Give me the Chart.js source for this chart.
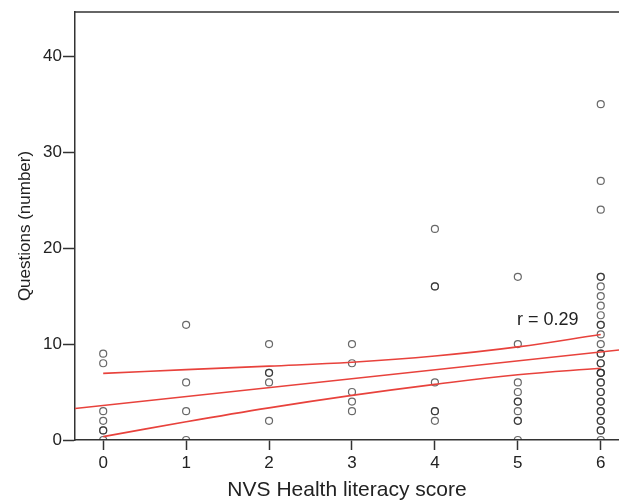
<!DOCTYPE html>
<html><head><meta charset="utf-8">
<script src="https://cdn.jsdelivr.net/npm/chart.js@4/dist/chart.umd.min.js"></script>
<style>html,body{margin:0;padding:0;background:#fff}</style>
</head>
<body>
<canvas id="c" width="619" height="503"></canvas>
<script>
// ---- data ----
const scoreCategories = [0, 1, 2, 3, 4, 5, 6];
const questionsScore0 = [9, 8, 3, 2, 1, 1, 0];
const questionsScore1 = [12, 6, 3, 0];
const questionsScore2 = [10, 7, 7, 6, 2];
const questionsScore3 = [10, 8, 5, 4, 3];
const questionsScore4 = [22, 16, 16, 6, 3, 3, 2];
const questionsScore5 = [17, 10, 6, 5, 4, 4, 3, 2, 2, 0];
const questionsScore6 = [35, 27, 24, 17, 17, 16, 15, 14, 13, 12, 12, 11, 10, 9, 9, 8, 8, 7, 7, 7, 6, 6, 5, 5, 4, 4, 3, 3, 2, 2, 1, 1, 0];
const fitLineX = [-0.34, 6.22];
const fitLineY = [3.28, 9.38];
const ciUpper = [6.94, 7.33, 7.7, 8.1, 8.75, 9.7, 11.0];
const ciLower = [0.35, 1.9, 3.35, 4.65, 5.8, 6.8, 7.47];
const yTicks = [0, 10, 20, 30, 40];
const xTicks = [0, 1, 2, 3, 4, 5, 6];
const rLabel = "r = 0.29";
const rLabelPos = [4.99, 12.5];
const xTitle = "NVS Health literacy score";
const yTitle = "Questions (number)";

const columns = [questionsScore0, questionsScore1, questionsScore2, questionsScore3, questionsScore4, questionsScore5, questionsScore6];
const scatterPts = [];
columns.forEach((col, i) => col.forEach(v => scatterPts.push({x: scoreCategories[i], y: v})));

const RED = 'rgb(232,66,60)';
const FONT = "'Liberation Sans', Arial, sans-serif";

const decor = {
  id: 'decor',
  afterDraw(chart) {
    const {ctx, chartArea, scales} = chart;
    ctx.save();
    ctx.strokeStyle = '#333';
    ctx.lineWidth = 1.5;
    ctx.beginPath();
    ctx.moveTo(chartArea.left, chartArea.top);
    ctx.lineTo(chartArea.right, chartArea.top);
    ctx.stroke();
    ctx.fillStyle = '#222';
    ctx.font = '18px ' + FONT;
    ctx.textAlign = 'left';
    ctx.textBaseline = 'middle';
    ctx.fillText(rLabel, scales.x.getPixelForValue(rLabelPos[0]), scales.y.getPixelForValue(rLabelPos[1]));
    ctx.restore();
  }
};

new Chart(document.getElementById('c'), {
  type: 'scatter',
  data: {
    datasets: [
      {type: 'line', data: fitLineX.map((x, i) => ({x, y: fitLineY[i]})), borderColor: RED, borderWidth: 1.6, pointRadius: 0, fill: false},
      {type: 'line', data: scoreCategories.map((x, i) => ({x, y: ciUpper[i]})), borderColor: RED, borderWidth: 1.6, pointRadius: 0, tension: 0.4, fill: false},
      {type: 'line', data: scoreCategories.map((x, i) => ({x, y: ciLower[i]})), borderColor: RED, borderWidth: 1.6, pointRadius: 0, tension: 0.4, fill: false},
      {data: scatterPts, pointRadius: 3.5, pointBorderWidth: 1.2, pointBorderColor: 'rgba(40,40,40,0.7)', pointBackgroundColor: 'rgba(255,255,255,0)'}
    ]
  },
  options: {
    responsive: false,
    animation: false,
    devicePixelRatio: 1,
    layout: {autoPadding: false, padding: {top: 12, left: 0, right: 0, bottom: 0}},
    plugins: {legend: {display: false}, tooltip: {enabled: false}},
    scales: {
      x: {
        type: 'linear', min: -0.34, max: 6.22,
        afterBuildTicks: s => { s.ticks = xTicks.map(v => ({value: v})); },
        afterFit: s => { s.height = 63; s.paddingRight = 0; s.paddingLeft = 0; },
        grid: {drawOnChartArea: false, drawTicks: true, tickLength: 10, tickColor: '#333', tickWidth: 1.5},
        border: {display: true, color: '#333', width: 1.5},
        ticks: {font: {size: 17, family: FONT}, color: '#222', padding: 3},
        title: {display: true, text: xTitle, font: {size: 21, family: FONT}, color: '#222', padding: {top: 0, bottom: 0}}
      },
      y: {
        type: 'linear', min: 0, max: 44.6,
        afterBuildTicks: s => { s.ticks = yTicks.map(v => ({value: v})); },
        afterFit: s => { s.width = 75; s.paddingTop = 0; s.paddingBottom = 0; },
        grid: {drawOnChartArea: false, drawTicks: true, tickLength: 12, tickColor: '#333', tickWidth: 1.5},
        border: {display: true, color: '#333', width: 1.5},
        ticks: {font: {size: 17, family: FONT}, color: '#222', padding: 1},
        title: {display: true, text: yTitle, font: {size: 17, family: FONT}, color: '#222', padding: {top: 15, bottom: 0}}
      }
    }
  },
  plugins: [decor]
});
</script>
</body></html>
